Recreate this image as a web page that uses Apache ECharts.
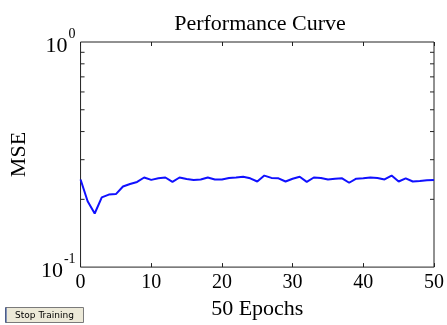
<!DOCTYPE html>
<html>
<head>
<meta charset="utf-8">
<script src="https://cdn.jsdelivr.net/npm/echarts@6/dist/echarts.min.js"></script>
<style>
html, body { margin: 0; padding: 0; background: #fff; }
#chart { width: 447px; height: 325px; }
</style>
</head>
<body>
<div id="chart"></div>
<script>
// epochs 0..50 and MSE
const epochs = []
for (let i = 0; i <= 50; i++) epochs.push(i)
const mse = [
  0.245, 0.196, 0.173, 0.204, 0.210, 0.211, 0.228, 0.234, 0.239, 0.250,
  0.244, 0.248, 0.250, 0.239, 0.250, 0.246, 0.244, 0.245, 0.250, 0.245,
  0.245, 0.249, 0.250, 0.252, 0.248, 0.240, 0.255, 0.249, 0.248, 0.240,
  0.247, 0.252, 0.239, 0.250, 0.249, 0.245, 0.247, 0.248, 0.237, 0.247,
  0.248, 0.250, 0.249, 0.245, 0.255, 0.240, 0.248, 0.240, 0.241, 0.243,
  0.244
]
const xTicks = [0, 10, 20, 30, 40, 50]
const yMinorTicks = [0.2, 0.3, 0.4, 0.5, 0.6, 0.7, 0.8, 0.9]

const serif = 'Liberation Serif'
const chart = echarts.init(document.getElementById('chart'))

const yLabel = function (v) {
  if (Math.abs(v - 1) < 1e-9) return '{b|10}{s|0}'
  if (Math.abs(v - 0.1) < 1e-9) return '{b|10}{s|-1}'
  return ''
}

const option = {
  backgroundColor: '#fff',
  animation: false,
  title: {
    text: 'Performance Curve',
    left: 255,
    textAlign: 'center',
    top: 8,
    textStyle: { fontFamily: serif, fontSize: 22, fontWeight: 'normal', color: '#000' }
  },
  grid: {
    left: 78, right: 10, top: 42, bottom: 46,
    show: true, borderColor: '#222', borderWidth: 1, backgroundColor: '#fff'
  },
  xAxis: [{
    type: 'value',
    min: 0, max: 50, interval: 10,
    name: '50 Epochs',
    nameLocation: 'middle',
    nameGap: 28,
    nameTextStyle: { fontFamily: serif, fontSize: 22, color: '#000' },
    axisLine: { show: false },
    axisTick: { show: true, inside: true, length: 4, lineStyle: { color: '#222' } },
    axisLabel: {
      fontFamily: serif, fontSize: 20, color: '#000', margin: 6,
      formatter: v => xTicks.indexOf(v) >= 0 ? String(v) : ''
    },
    splitLine: { show: false }
  }, {
    type: 'value',
    position: 'top',
    min: 0, max: 50, interval: 10,
    axisLine: { show: false },
    axisTick: { show: true, inside: true, length: 4, lineStyle: { color: '#222' } },
    axisLabel: { show: false },
    splitLine: { show: false }
  }],
  yAxis: [{
    type: 'log',
    logBase: 10,
    min: 0.1, max: 1,
    name: 'MSE',
    nameLocation: 'middle',
    nameRotate: 90,
    nameGap: 50,
    nameTextStyle: { fontFamily: serif, fontSize: 22, color: '#000' },
    axisLine: { show: false },
    axisTick: { show: false },
    axisLabel: {
      margin: 5,
      formatter: yLabel,
      rich: {
        b: { fontFamily: serif, fontSize: 22, color: '#000', verticalAlign: 'bottom', padding: [8, 0, 0, 0] },
        s: { fontFamily: serif, fontSize: 14, color: '#000', verticalAlign: 'top', padding: [0, 0, 12, 1] }
      }
    },
    splitLine: { show: false }
  }, {
    type: 'log',
    logBase: 10,
    min: 0.1, max: 1,
    position: 'right',
    axisLine: { show: false },
    axisTick: { show: false },
    axisLabel: { show: false },
    splitLine: { show: false }
  }],
  series: [{
    name: 'MSE',
    type: 'line',
    data: epochs.map((e, i) => [e, mse[i]]),
    showSymbol: false,
    lineStyle: { color: '#1010ff', width: 2 },
    itemStyle: { color: '#1010ff' }
  }, {
    // log minor ticks at 0.2..0.9 on both vertical edges
    type: 'custom',
    silent: true,
    data: yMinorTicks.map(v => [0, v]),
    renderItem: function (params, api) {
      const l = api.coord([0, api.value(1)])
      const r = api.coord([50, api.value(1)])
      return {
        type: 'group',
        children: [
          { type: 'line', shape: { x1: l[0], y1: l[1], x2: l[0] + 4, y2: l[1] }, style: { stroke: '#222', lineWidth: 1 } },
          { type: 'line', shape: { x1: r[0] - 4, y1: r[1], x2: r[0], y2: r[1] }, style: { stroke: '#222', lineWidth: 1 } }
        ]
      }
    }
  }],
  graphic: [{
    type: 'group',
    left: 5,
    top: 307,
    children: [
      { type: 'rect', shape: { x: 0, y: 0, width: 78, height: 15 }, style: { fill: '#ece9d8', stroke: '#7a7a7a', lineWidth: 1 } },
      { type: 'rect', shape: { x: 0, y: 0, width: 1, height: 15 }, style: { fill: '#1c3f95' } },
      { type: 'text', x: 39, y: 8, style: { text: 'Stop Training', fontFamily: 'DejaVu Sans', fontSize: 9, fill: '#000', align: 'center', verticalAlign: 'middle' } }
    ]
  }]
}

chart.setOption(option)
</script>
</body>
</html>
